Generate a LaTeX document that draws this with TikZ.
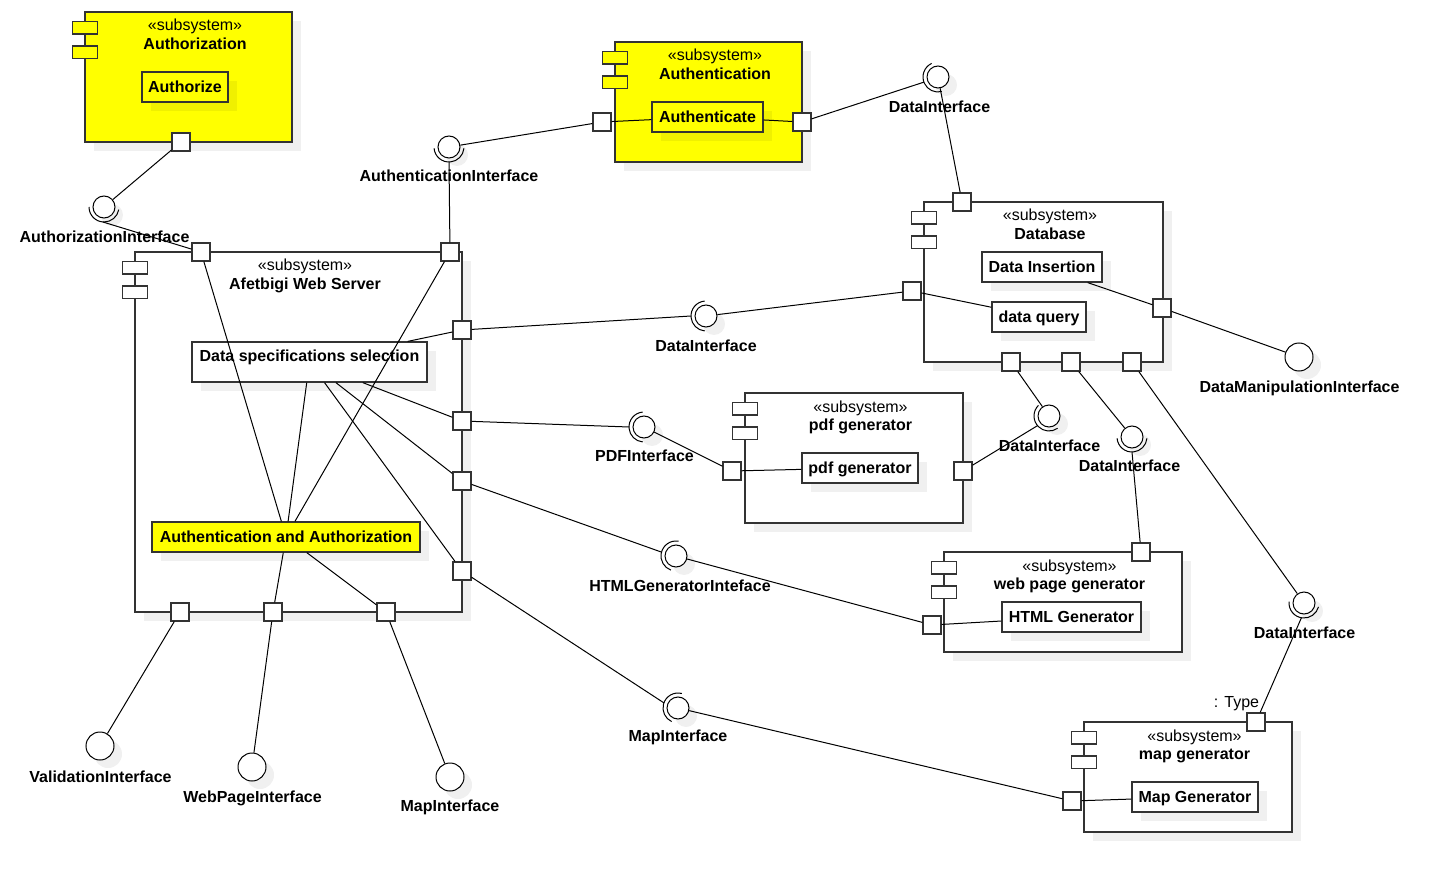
\documentclass[tikz,border=0pt]{standalone}
\usepackage{fontspec}
\setmainfont{Liberation Sans}
\usetikzlibrary{calc}
\definecolor{uyellow}{HTML}{FFFF00}
\definecolor{uborder}{HTML}{333333}
\tikzset{
  ln/.style={draw=black, line width=1pt},
  sub/.style={draw=uborder, line width=1.3pt, inner sep=0pt, shape=rectangle},
  icon/.style={draw=uborder, line width=1.2pt, inner sep=0pt, shape=rectangle, minimum width=25pt, minimum height=12.5pt},
  port/.style={draw=uborder, line width=1.2pt, fill=white, minimum size=18pt, inner sep=0pt, shape=rectangle},
  part/.style={draw=uborder, line width=1.2pt, inner sep=0pt, shape=rectangle, font=\bfseries\fontsize{16}{18}\selectfont, text height=11.5pt, text depth=0pt},
  lbl/.style={font=\bfseries\fontsize{16}{18}\selectfont, inner sep=0pt, text height=11.5pt, text depth=0pt},
  ster/.style={font=\fontsize{16}{18}\selectfont, inner sep=0pt, anchor=base},
  ttl/.style={font=\bfseries\fontsize{16}{18}\selectfont, inner sep=0pt, anchor=base},
  ball/.style={circle, draw=black, line width=1pt, fill=white, minimum size=22pt, inner sep=0pt},
  pball/.style={circle, draw=black, line width=1pt, fill=white, minimum size=28pt, inner sep=0pt},
  shadow/.style={fill=black, fill opacity=0.06, draw=none},
}
\newcommand\subsys[7]{%
  \fill[shadow] (#2+9,#3+9) rectangle (#4+9,#5+9);
  \node[sub, fill=#6, minimum width={(#4-#2)*1pt}, minimum height={(#5-#3)*1pt}] (#1) at ({(#2+#4)/2},{(#3+#5)/2}) {};
  \node[icon, fill=#6] (#1-i1) at (#2,#3+15.75) {};
  \node[icon, fill=#6] (#1-i2) at (#2,#3+40.25) {};
  \node[ster] (#1-st) at ({(#2+#4)/2+6.5},#3+19) {«subsystem»};
  \node[ttl] (#1-tt) at ({(#2+#4)/2+6.5},#3+37.5) {#7};
}
\newcommand\partbox[7]{%
  \fill[shadow] (#2-#4/2+9,#3-#5/2+9) rectangle (#2+#4/2+9,#3+#5/2+9);
  \node[part, fill=#6, minimum width=#4pt, minimum height=#5pt] (#1) at (#2,#3) {#7};
}
\newcommand\sockt[3]{%
  \pgfmathsetmacro\sa{#2-85}\pgfmathsetmacro\sb{#2+85}%
  \draw[ln] ($(#1.center)+(\sa:15pt)$) arc[start angle=\sa, end angle=\sb, radius=15pt];
  \coordinate (#3) at ($(#1.center)+(#2:15pt)$);
}
\newcommand\ballnode[4]{% style, name, x, y
  \fill[shadow] (#3+8,#4+8) circle[radius=11pt];
  \node[#1] (#2) at (#3,#4) {};
}
\begin{document}
\begin{tikzpicture}[x=1pt,y=-1pt]
\fill[white] (0,0) rectangle (1456,882);
\useasboundingbox (0,0) rectangle (1456,882);

% subsystems
\subsys{az}{85}{12}{292}{142}{uyellow}{Authorization}
\subsys{an}{615}{42}{802}{162}{uyellow}{Authentication}
\subsys{ws}{135}{252}{462}{612}{white}{Afetbigi Web Server}
\subsys{db}{924}{202}{1163}{362}{white}{Database}
\subsys{pdf}{745}{393}{963}{523}{white}{pdf generator}
\subsys{wg}{944}{552}{1182}{652}{white}{web page generator}
\subsys{mg}{1084}{722}{1292}{832}{white}{map generator}

% parts
\partbox{authorize}{185}{87}{86}{30}{uyellow}{Authorize}
\partbox{authenticate}{707.5}{117}{111}{30}{uyellow}{Authenticate}
\fill[shadow] (201,351) rectangle (436,391);
\node[part, fill=white, minimum width=235pt, minimum height=40pt, text depth=11.5pt] (dss) at (309.5,362) {Data specifications selection};
\partbox{aa}{286}{537}{268}{30}{uyellow}{Authentication and Authorization}
\partbox{dins}{1042}{267}{120}{30}{white}{Data Insertion}
\partbox{dq}{1039}{317}{94}{30}{white}{data query}
\partbox{pdfg}{860}{468}{116}{30}{white}{pdf generator}
\partbox{htmlg}{1071.5}{617}{139}{30}{white}{HTML Generator}
\partbox{mapg}{1195}{797}{126}{30}{white}{Map Generator}

% ports
\node[port] (az-p) at (181,142) {};
\node[port] (an-pl) at (602,122) {};
\node[port] (an-pr) at (802,122) {};
\node[port] (ws-t1) at (201,252) {};
\node[port] (ws-t2) at (450,252) {};
\node[port] (ws-r1) at (462,330) {};
\node[port] (ws-r2) at (462,421) {};
\node[port] (ws-r3) at (462,481) {};
\node[port] (ws-r4) at (462,571) {};
\node[port] (ws-b1) at (180,612) {};
\node[port] (ws-b2) at (273,612) {};
\node[port] (ws-b3) at (386,612) {};
\node[port] (db-t) at (962,202) {};
\node[port] (db-l) at (912,291) {};
\node[port] (db-r) at (1162,308) {};
\node[port] (db-b1) at (1011,362) {};
\node[port] (db-b2) at (1071,362) {};
\node[port] (db-b3) at (1132,362) {};
\node[port] (pdf-l) at (732,471) {};
\node[port] (pdf-r) at (963,471) {};
\node[port] (wg-l) at (932,625) {};
\node[port] (wg-t) at (1141,552) {};
\node[port] (mg-l) at (1072,801) {};
\node[port] (mg-t) at (1256,722) {};

% balls with sockets
\ballnode{ball}{b-az}{104}{207}
\ballnode{ball}{b-an}{449}{147}
\ballnode{ball}{b-di1}{938}{77}
\ballnode{ball}{b-di2}{706}{316}
\ballnode{ball}{b-pdf}{644}{427}
\ballnode{ball}{b-html}{676}{556}
\ballnode{ball}{b-map}{678}{708}
\ballnode{ball}{b-di3}{1049}{416}
\ballnode{ball}{b-di4}{1132}{437}
\ballnode{ball}{b-di5}{1304}{603}
\sockt{b-az}{-95}{s-az}
\sockt{b-an}{-90}{s-an}
\sockt{b-di1}{200}{s-di1}
\sockt{b-di2}{180}{s-di2}
\sockt{b-pdf}{180}{s-pdf}
\sockt{b-html}{165}{s-html}
\sockt{b-map}{160}{s-map}
\sockt{b-di3}{220}{s-di3}
\sockt{b-di4}{-90}{s-di4}
\sockt{b-di5}{-100}{s-di5}

% plain provided interfaces
\fill[shadow] (108,754) circle[radius=14pt];
\node[pball] (pb-val) at (100,746) {};
\fill[shadow] (260,775) circle[radius=14pt];
\node[pball] (pb-web) at (252,767) {};
\fill[shadow] (458,785) circle[radius=14pt];
\node[pball] (pb-map) at (450,777) {};
\fill[shadow] (1307,365) circle[radius=14pt];
\node[pball] (pb-dm) at (1299,357) {};

% internal connectors
\draw[ln] (an-pl) -- (authenticate);
\draw[ln] (authenticate) -- (an-pr);
\draw[ln] (ws-t1) -- (aa);
\draw[ln] (ws-t2) -- (aa);
\draw[ln] (dss) -- (aa);
\draw[ln] (dss) -- (ws-r1);
\draw[ln] (dss) -- (ws-r2);
\draw[ln] (dss) -- (ws-r3);
\draw[ln] (dss) -- (ws-r4);
\draw[ln] (aa) -- (ws-b2);
\draw[ln] (aa) -- (ws-b3);
\draw[ln] (db-l) -- (dq);
\draw[ln] (dins) -- (db-r);
\draw[ln] (pdf-l) -- (pdfg);
\draw[ln] (wg-l) -- (htmlg);
\draw[ln] (mg-l) -- (mapg);

% provided (ball) connectors
\draw[ln] (az-p) -- (b-az);
\draw[ln] (an-pl) -- (b-an);
\draw[ln] (db-t) -- (b-di1);
\draw[ln] (db-l) -- (b-di2);
\draw[ln] (pdf-l) -- (b-pdf);
\draw[ln] (wg-l) -- (b-html);
\draw[ln] (mg-l) -- (b-map);
\draw[ln] (db-b1) -- (b-di3);
\draw[ln] (db-b2) -- (b-di4);
\draw[ln] (db-b3) -- (b-di5);
\draw[ln] (ws-b1) -- (pb-val);
\draw[ln] (ws-b2) -- (pb-web);
\draw[ln] (ws-b3) -- (pb-map);
\draw[ln] (db-r) -- (pb-dm);

% required (socket) connectors
\draw[ln] (ws-t1) -- (s-az);
\draw[ln] (ws-t2) -- (s-an);
\draw[ln] (an-pr) -- (s-di1);
\draw[ln] (ws-r1) -- (s-di2);
\draw[ln] (ws-r2) -- (s-pdf);
\draw[ln] (ws-r3) -- (s-html);
\draw[ln] (ws-r4) -- (s-map);
\draw[ln] (pdf-r) -- (s-di3);
\draw[ln] (wg-t) -- (s-di4);
\draw[ln] (mg-t) -- (s-di5);

% labels
\node[lbl] (l-az) at (104.5,236.5) {AuthorizationInterface};
\node[lbl] (l-an) at (449,176) {AuthenticationInterface};
\node[lbl] (l-di1) at (939.5,106.5) {DataInterface};
\node[lbl] (l-di2) at (706,346) {DataInterface};
\node[lbl] (l-pdf) at (644.5,456) {PDFInterface};
\node[lbl] (l-html) at (680,586) {HTMLGeneratorInteface};
\node[lbl] (l-map) at (678,736) {MapInterface};
\node[lbl] (l-dm) at (1299.5,386.5) {DataManipulationInterface};
\node[lbl] (l-di3) at (1049.5,446) {DataInterface};
\node[lbl] (l-di4) at (1129.5,466) {DataInterface};
\node[lbl] (l-di5) at (1304.5,632.5) {DataInterface};
\node[lbl] (l-val) at (100.5,776.5) {ValidationInterface};
\node[lbl] (l-web) at (252.5,796.5) {WebPageInterface};
\node[lbl] (l-map2) at (450,806) {MapInterface};
\node[font=\fontsize{16}{18}\selectfont, inner sep=0pt, text height=11.5pt, text depth=0pt] (l-type) at (1236.5,701.75) {: Type};
\end{tikzpicture}
\end{document}
